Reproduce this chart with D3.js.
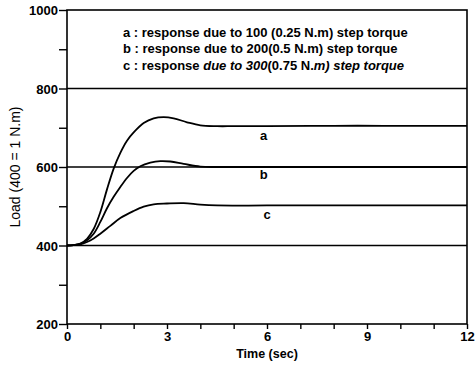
<!DOCTYPE html>
<html><head><meta charset="utf-8">
<script src="https://cdn.jsdelivr.net/npm/d3@7"></script>
<style>body{margin:0;background:#fff}svg{display:block}text{font-family:"Liberation Sans",Arial,sans-serif;fill:#000}</style>
</head><body>
<script>
const timeA = [0,0.2,0.4,0.6,0.8,1.0,1.2,1.4,1.6,1.8,2.0,2.3,2.6,2.9,3.2,3.6,4.0,4.5,5,6,8,10,12];
const loadA = [400,401,405,417,442,485,543,596,636,667,688,712,724,727,724,714,706,704,704,704,705,705,705];
const timeB = [0,0.2,0.4,0.6,0.8,1.0,1.2,1.4,1.6,1.8,2.0,2.2,2.5,2.8,3.1,3.5,4.0,4.5,6,8,10,12];
const loadB = [400,401,404,413,430,460,495,524,549,572,590,602,611,615,614,608,601,600,600,600,600,600];
const timeC = [0,0.2,0.4,0.6,0.8,1.0,1.3,1.6,2.0,2.3,2.6,3.0,3.5,4.0,4.5,6,8,10,12];
const loadC = [400,401,403,409,418,430,450,470,488,499,505,507,508,504,502,502,502,502,502];
const seriesNames = ["a","b","c"];
const labelPos = [[5.9,680],[5.9,580],[6.0,480]];
const gridValues = [400,600,800];
const xTickValues = [0,1,2,3,4,5,6,7,8,9,10,11,12];
const xTickLabels = ["0","3","6","9","12"];
const yTickValues = [200,300,400,500,600,700,800,900,1000];
const yTickLabels = ["200","400","600","800","1000"];
const legendLines = [
  [["a : response due to 100 (0.25 N.m) step torque","normal"]],
  [["b : response due to 200(0.5 N.m) step torque","normal"]],
  [["c : response ","normal"],["due to 300","italic"],["(0.75 N.","normal"],["m)","italic"],[" step torque","italic"]]
];

const W=475,H=365,m={l:67,r:8,t:10,b:41};
const svg=d3.select("body").append("svg").attr("width",W).attr("height",H);
const x=d3.scaleLinear().domain([0,12]).range([m.l,W-m.r]);
const y=d3.scaleLinear().domain([200,1000]).range([H-m.b,m.t]);

svg.selectAll(".grid").data(gridValues).enter().append("line")
  .attr("x1",x(0)).attr("x2",x(12)).attr("y1",d=>y(d)).attr("y2",d=>y(d))
  .attr("stroke","#000").attr("stroke-width",1.4);

svg.append("rect").attr("x",x(0)).attr("y",y(1000)).attr("width",x(12)-x(0)).attr("height",y(200)-y(1000))
  .attr("fill","none").attr("stroke","#000").attr("stroke-width",1.6);

const yAxis=d3.axisLeft(y).tickValues(yTickValues).tickSize(8).tickPadding(1)
  .tickFormat(d=>yTickLabels.includes(String(d))?String(d):"");
const gy=svg.append("g").attr("transform",`translate(${x(0)},0)`).call(yAxis);
const xAxis=d3.axisBottom(x).tickValues(xTickValues).tickSize(5).tickPadding(2)
  .tickFormat(d=>xTickLabels.includes(String(d))?String(d):"");
const gx=svg.append("g").attr("transform",`translate(0,${y(200)})`).call(xAxis);
[gx,gy].forEach(g=>{
  g.select(".domain").remove();
  g.selectAll("line").attr("stroke","#000").attr("stroke-width",1.4);
  g.selectAll("text").style("font-size","13px").style("font-weight","bold").attr("fill","#000");
});
gy.selectAll("text").attr("dy","0.35em");
gx.selectAll("text").attr("dy","0.75em");

const line=d3.line().x(d=>x(d[0])).y(d=>y(d[1])).curve(d3.curveCatmullRom.alpha(0.5));
[[timeA,loadA],[timeB,loadB],[timeC,loadC]].forEach(([t,v])=>{
  svg.append("path").datum(t.map((tt,i)=>[tt,v[i]])).attr("d",line)
    .attr("fill","none").attr("stroke","#000").attr("stroke-width",1.8);
});

svg.selectAll(".lab").data(seriesNames).enter().append("text")
  .attr("x",(d,i)=>x(labelPos[i][0])).attr("y",(d,i)=>y(labelPos[i][1]))
  .attr("text-anchor","middle").attr("dy","0.35em")
  .style("font-size","13px").style("font-weight","bold").text(d=>d);

legendLines.forEach((parts,i)=>{
  const t=svg.append("text").attr("x",123).attr("y",32+i*16.5).attr("dy","0.35em")
    .style("font-size","13px").style("font-weight","bold");
  parts.forEach(p=>t.append("tspan").style("font-style",p[1]).text(p[0]));
});

svg.append("text").attr("x",x(6)).attr("y",H-7).attr("text-anchor","middle")
  .style("font-size","12.5px").style("font-weight","bold").text("Time (sec)");
svg.append("text").attr("transform",`translate(15,${y(600)}) rotate(-90)`).attr("text-anchor","middle").attr("dy","0.35em")
  .style("font-size","14px").text("Load (400 = 1 N.m)");
</script>
</body></html>
